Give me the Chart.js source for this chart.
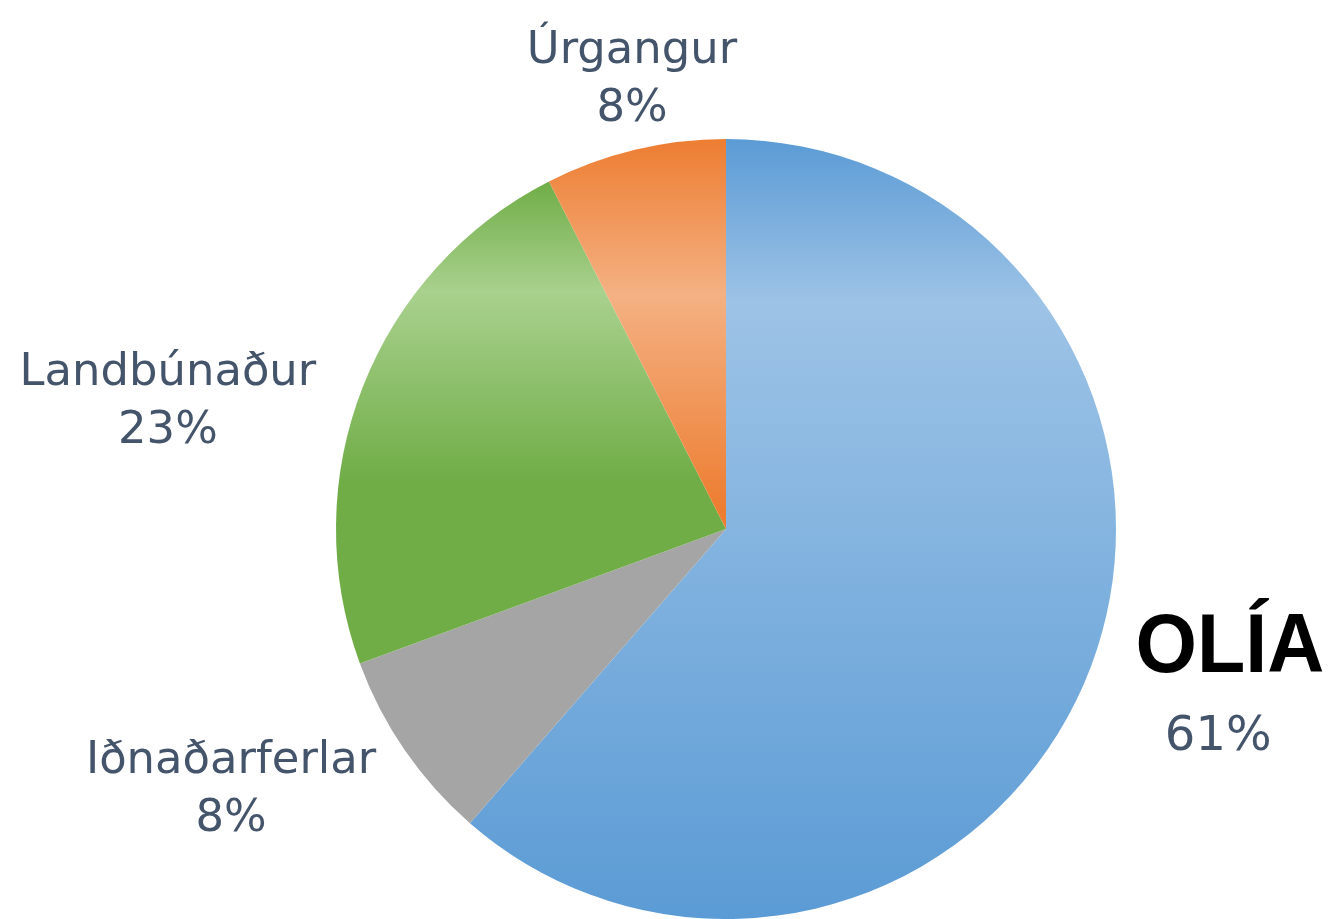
<!DOCTYPE html>
<html>
<head>
<meta charset="utf-8">
<script src="https://cdn.jsdelivr.net/npm/chart.js@4"></script>
<style>
  html, body { margin: 0; padding: 0; background: #fff; }
  #wrap { width: 1329px; height: 919px; }
</style>
</head>
<body>
<div id="wrap"><canvas id="pieChart"></canvas></div>
<script>
var categories = ['OLÍA', 'Iðnaðarferlar', 'Landbúnaður', 'Úrgangur'];
var shares = [61.4, 8.0, 23.1, 7.5];
var percentText = ['61%', '8%', '23%', '8%'];

// gradient stops per slice: [position in slice's vertical extent, colour]
var sliceFills = [
    [[0, '#5b9bd5'], [0.21, '#9dc3e6'], [1, '#5b9bd5']],
    [[0, '#a5a5a5'], [1, '#a5a5a5']],
    [[0, '#70ad47'], [0.23, '#a9d18e'], [0.62, '#70ad47'], [1, '#70ad47']],
    [[0, '#ed7d31'], [0.4, '#f4b183'], [0.95, '#ed7d31'], [1, '#ed7d31']]
];

// label anchors relative to the pie centre, in radius units: [dx, dy of first baseline]
var labelPlaces = [
    { dx: 1.292, dy: 0.367, pdx: 1.262, pdy: 0.567 },
    { dx: -1.269, dy: 0.626 },
    { dx: -1.431, dy: -0.369 },
    { dx: -0.241, dy: -1.195 }
];

function pieGeometry(chart) {
    var a = chart.chartArea;
    return {
        x: (a.left + a.right) / 2,
        y: (a.top + a.bottom) / 2,
        r: Math.min(a.right - a.left, a.bottom - a.top) / 2
    };
}

function sliceExtent(index, g) {
    var total = shares.reduce(function (s, v) { return s + v; }, 0);
    var before = 0;
    for (var i = 0; i < index; i++) before += shares[i];
    var a0 = before / total * Math.PI * 2;
    var a1 = (before + shares[index]) / total * Math.PI * 2;
    // angle measured clockwise from top: y = cy - r*cos(a)
    var ys = [g.y, g.y - g.r * Math.cos(a0), g.y - g.r * Math.cos(a1)];
    if (a0 <= 0) ys.push(g.y - g.r);
    if (a0 <= Math.PI && a1 >= Math.PI) ys.push(g.y + g.r);
    return [Math.min.apply(null, ys), Math.max.apply(null, ys)];
}

function sliceColor(context) {
    var chart = context.chart;
    if (!chart.chartArea) return sliceFills[context.dataIndex][0][1];
    var g = pieGeometry(chart);
    var ext = sliceExtent(context.dataIndex, g);
    var grad = chart.ctx.createLinearGradient(0, ext[0], 0, ext[1]);
    sliceFills[context.dataIndex].forEach(function (s) { grad.addColorStop(s[0], s[1]); });
    return grad;
}

var sliceLabels = {
    id: 'sliceLabels',
    afterDatasetsDraw: function (chart) {
        var ctx = chart.ctx;
        var g = pieGeometry(chart);
        ctx.save();
        ctx.textAlign = 'center';
        ctx.textBaseline = 'alphabetic';
        categories.forEach(function (name, i) {
            var p = labelPlaces[i];
            var x = g.x + p.dx * g.r;
            var y = g.y + p.dy * g.r;
            if (i === 0) {
                ctx.save();
                ctx.translate(x, y);
                ctx.scale(0.94, 1);
                ctx.fillStyle = '#000000';
                ctx.font = 'bold 84px "Liberation Sans", Arial, sans-serif';
                ctx.fillText(name, 0, 0);
                ctx.restore();
                ctx.save();
                ctx.translate(g.x + p.pdx * g.r, g.y + p.pdy * g.r);
                ctx.fillStyle = '#44546a';
                ctx.font = '48px "DejaVu Sans"';
                ctx.fillText(percentText[i], 0, 0);
                ctx.restore();
                return;
            }
            ctx.save();
            ctx.translate(x, y);
            ctx.scale(1.02, 1);
            ctx.fillStyle = '#44546a';
            ctx.font = '44px "DejaVu Sans"';
            ctx.fillText(name, 0, 0);
            ctx.fillText(percentText[i], 0, 58);
            ctx.restore();
        });
        ctx.restore();
    }
};

var ctx = document.getElementById('pieChart').getContext('2d');
var myChart = new Chart(ctx, {
    type: 'pie',
    data: {
        labels: categories,
        datasets: [{
            data: shares,
            backgroundColor: sliceColor,
            borderWidth: 0
        }]
    },
    options: {
        responsive: true,
        maintainAspectRatio: false,
        animation: false,
        layout: {
            padding: { top: 139, bottom: 0, left: 336, right: 213 }
        },
        plugins: {
            legend: { display: false },
            tooltip: { enabled: false }
        }
    },
    plugins: [sliceLabels]
});
</script>
</body>
</html>
